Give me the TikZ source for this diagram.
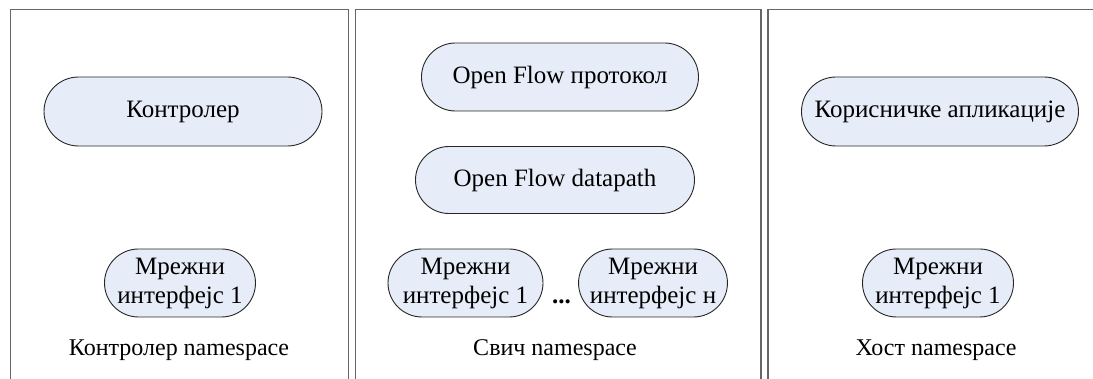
\documentclass[tikz,border=0pt]{standalone}
\usepackage{fontspec}
\setmainfont{Liberation Serif}
\usetikzlibrary{shapes.misc}
\definecolor{nodefill}{HTML}{E7EDF8}
\definecolor{panelline}{HTML}{666666}
\tikzset{
  pill/.style={rounded rectangle, draw=black!85, line width=0.9pt, fill=nodefill,
    inner sep=0pt, font=\fontsize{25}{28}\selectfont, align=center},
  panelbox/.style={draw=panelline, line width=1.2pt},
  nslabel/.style={font=\fontsize{24}{27}\selectfont, inner sep=0pt}
}
\begin{document}
\begin{tikzpicture}[x=1pt,y=-1pt]
\useasboundingbox (0,0) rectangle (1093,379);
% panels (open at the bottom)
\draw[panelbox] (10.7,385) -- (10.7,9.7) -- (348.3,9.7) -- (348.3,385);
\draw[panelbox] (355.3,385) -- (355.3,9.7) -- (761,9.7) -- (761,385);
\draw[panelbox] (768,385) -- (768,9.7) -- (1100,9.7);
% left panel
\node[pill, minimum width=278, minimum height=69] (ctrl) at (183,111.5) {Контролер};
\node[pill, minimum width=151, minimum height=68] (ifL) at (180,283) {Мрежни\\[1pt]интерфејс 1};
\node[nslabel] (nsL) at (179,350) {Контролер namespace};
% middle panel
\node[pill, minimum width=277, minimum height=68] (ofp) at (560,77) {Open Flow протокол};
\node[pill, minimum width=279, minimum height=67] (ofd) at (555,180) {Open Flow datapath};
\node[pill, minimum width=155, minimum height=68] (ifM1) at (465.5,283) {Мрежни\\[1pt]интерфејс 1};
\node[pill, minimum width=148, minimum height=68] (ifMn) at (653,283) {Мрежни\\[1pt]интерфејс н};
\node[nslabel, font=\fontsize{25}{28}\selectfont\bfseries, anchor=base] (dots) at (561.5,304) {...};
\node[nslabel] (nsM) at (555,350) {Свич namespace};
% right panel
\node[pill, minimum width=277, minimum height=69] (apps) at (940,111.5) {Корисничке апликације};
\node[pill, minimum width=151, minimum height=68] (ifR) at (938,283) {Мрежни\\[1pt]интерфејс 1};
\node[nslabel] (nsR) at (936,350) {Хост namespace};
\end{tikzpicture}
\end{document}
